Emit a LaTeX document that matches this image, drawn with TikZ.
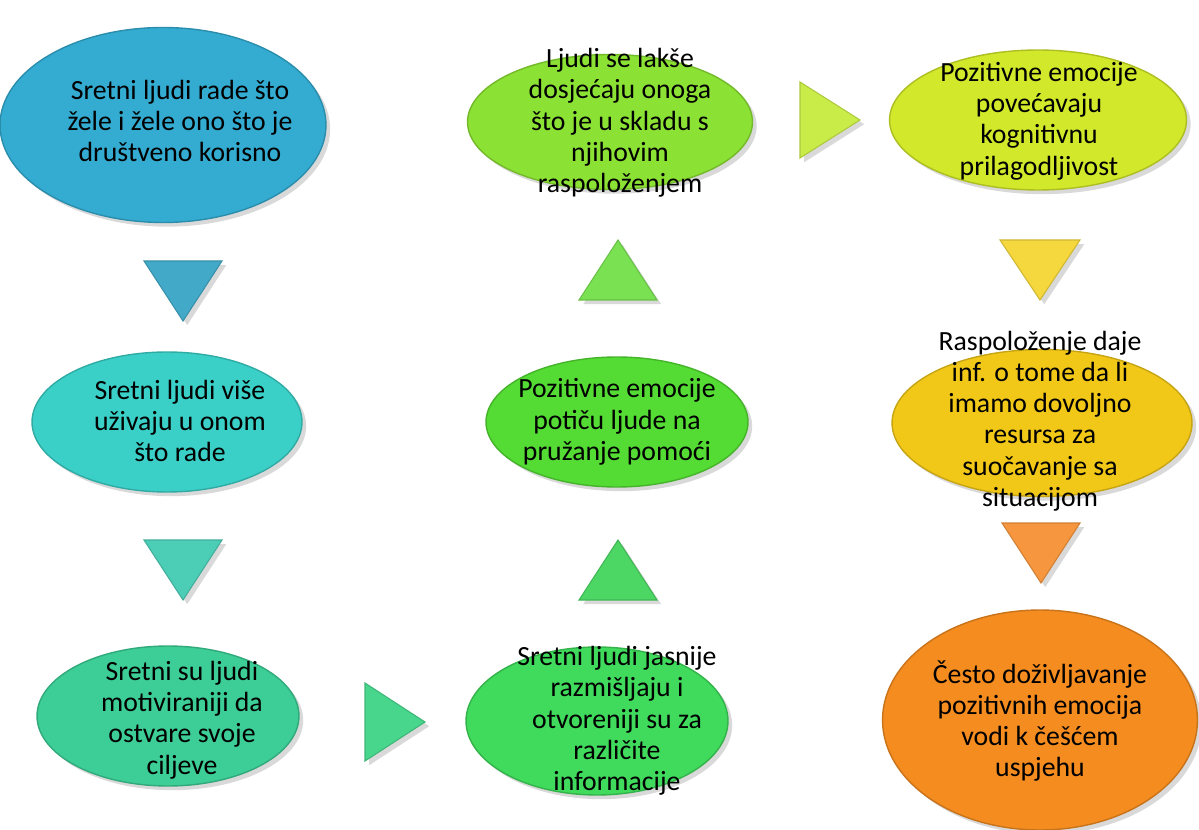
\documentclass[tikz,border=0pt]{standalone}
\usepackage{fontspec}
\setmainfont{Carlito}
\usetikzlibrary{shapes.geometric,shadows}

\definecolor{colSretni}{RGB}{52,172,210}
\definecolor{colUzivaju}{RGB}{58,208,200}
\definecolor{colMotiv}{RGB}{60,206,150}
\definecolor{colJasnije}{RGB}{64,218,92}
\definecolor{colPomoc}{RGB}{84,220,52}
\definecolor{colDosjec}{RGB}{140,226,52}
\definecolor{colPrilag}{RGB}{210,232,42}
\definecolor{colResurs}{RGB}{242,200,24}
\definecolor{colUspjeh}{RGB}{244,140,32}

\definecolor{triA}{RGB}{66,170,200}
\definecolor{triB}{RGB}{76,205,182}
\definecolor{triC}{RGB}{72,214,140}
\definecolor{triD}{RGB}{76,214,100}
\definecolor{triE}{RGB}{122,226,82}
\definecolor{triF}{RGB}{202,236,72}
\definecolor{triG}{RGB}{245,215,62}
\definecolor{triH}{RGB}{246,150,62}

\begin{document}
\begin{tikzpicture}[x=0.02cm,y=-0.02cm,
	bubble/.style={ellipse, inner sep=0pt, fill=#1, draw=#1!82!black, line width=0.8pt, drop shadow={opacity=0.3}},
	txt/.style={align=center, inner sep=0pt, font=\fontsize{15.8}{17.8}\selectfont},
	tri/.style={fill=#1, draw=#1!85!black, line width=0.6pt, drop shadow={opacity=0.3}}]
				
				\useasboundingbox (0,0) rectangle (1199,830);
				
				\node[bubble=colSretni, minimum width=6.52cm, minimum height=3.9cm] (Sretni) at (163,125) {};
				\node[txt] (lblSretni) at (180,121) {Sretni ljudi rade što\\žele i žele ono što je\\društveno korisno};
				
				\node[bubble=colUzivaju, minimum width=5.4cm, minimum height=2.8cm] (Uzivaju) at (167,422) {};
				\node[txt] (lblUzivaju) at (180,421) {Sretni ljudi više\\uživaju u onom\\što rade};
				
				\node[bubble=colMotiv, minimum width=5.24cm, minimum height=2.8cm] (Motiv) at (168,716) {};
				\node[txt] (lblMotiv) at (182,720) {Sretni su ljudi\\motiviraniji da\\ostvare svoje\\ciljeve};
				
				\node[bubble=colJasnije, minimum width=5.24cm, minimum height=2.96cm] (Jasnije) at (597,721) {};
				\node[txt] (lblJasnije) at (617,721) {Sretni ljudi jasnije\\razmišljaju i\\otvoreniji su za\\različite\\informacije};
				
				\node[bubble=colPomoc, minimum width=5.24cm, minimum height=2.6cm] (Pomoc) at (617,422) {};
				\node[txt] (lblPomoc) at (Pomoc) {Pozitivne emocije\\potiču ljude na\\pružanje pomoći};
				
				\node[bubble=colDosjec, minimum width=5.7cm, minimum height=2.7cm] (Dosjec) at (610,122) {};
				\node[txt] (lblDosjec) at (620,123) {Ljudi se lakše\\dosjećaju onoga\\što je u skladu s\\njihovim\\raspoloženjem};
				
				\node[bubble=colPrilag, minimum width=5.94cm, minimum height=2.8cm] (Prilag) at (1038,120) {};
				\node[txt] (lblPrilag) at (1039,121) {Pozitivne emocije\\povećavaju\\kognitivnu\\prilagodljivost};
				
				\node[bubble=colResurs, minimum width=6cm, minimum height=2.94cm] (Resurs) at (1042,423) {};
				\node[txt] (lblResurs) at (1040,421) {Raspoloženje daje\\inf. o tome da li\\imamo dovoljno\\resursa za\\suočavanje sa\\situacijom};
				
				\node[bubble=colUspjeh, minimum width=6.3cm, minimum height=4.4cm] (Uspjeh) at (1040,720) {};
				\node[txt] (lblUspjeh) at (1040,721) {Često doživljavanje\\pozitivnih emocija\\vodi k češćem\\uspjehu};
				
				\coordinate (arrA) at (183,291);
				\coordinate (arrB) at (183,570);
				\coordinate (arrC) at (395,722);
				\coordinate (arrD) at (618,570);
				\coordinate (arrE) at (618,270);
				\coordinate (arrF) at (830,120);
				\coordinate (arrG) at (1040,270);
				\coordinate (arrH) at (1041,553);
				
				\path[tri=triA] (arrA) +(-39,-30) -- +(39,-30) -- +(0,30) -- cycle;
				\path[tri=triB] (arrB) +(-39,-30) -- +(39,-30) -- +(0,30) -- cycle;
				\path[tri=triC] (arrC) +(-30,-39) -- +(-30,39) -- +(30,0) -- cycle;
				\path[tri=triD] (arrD) +(-39,30) -- +(39,30) -- +(0,-30) -- cycle;
				\path[tri=triE] (arrE) +(-39,30) -- +(39,30) -- +(0,-30) -- cycle;
				\path[tri=triF] (arrF) +(-30,-38) -- +(-30,38) -- +(30,0) -- cycle;
				\path[tri=triG] (arrG) +(-40,-30) -- +(40,-30) -- +(0,30) -- cycle;
				\path[tri=triH] (arrH) +(-39,-30) -- +(39,-30) -- +(0,30) -- cycle;
				
			\end{tikzpicture}
\end{document}
